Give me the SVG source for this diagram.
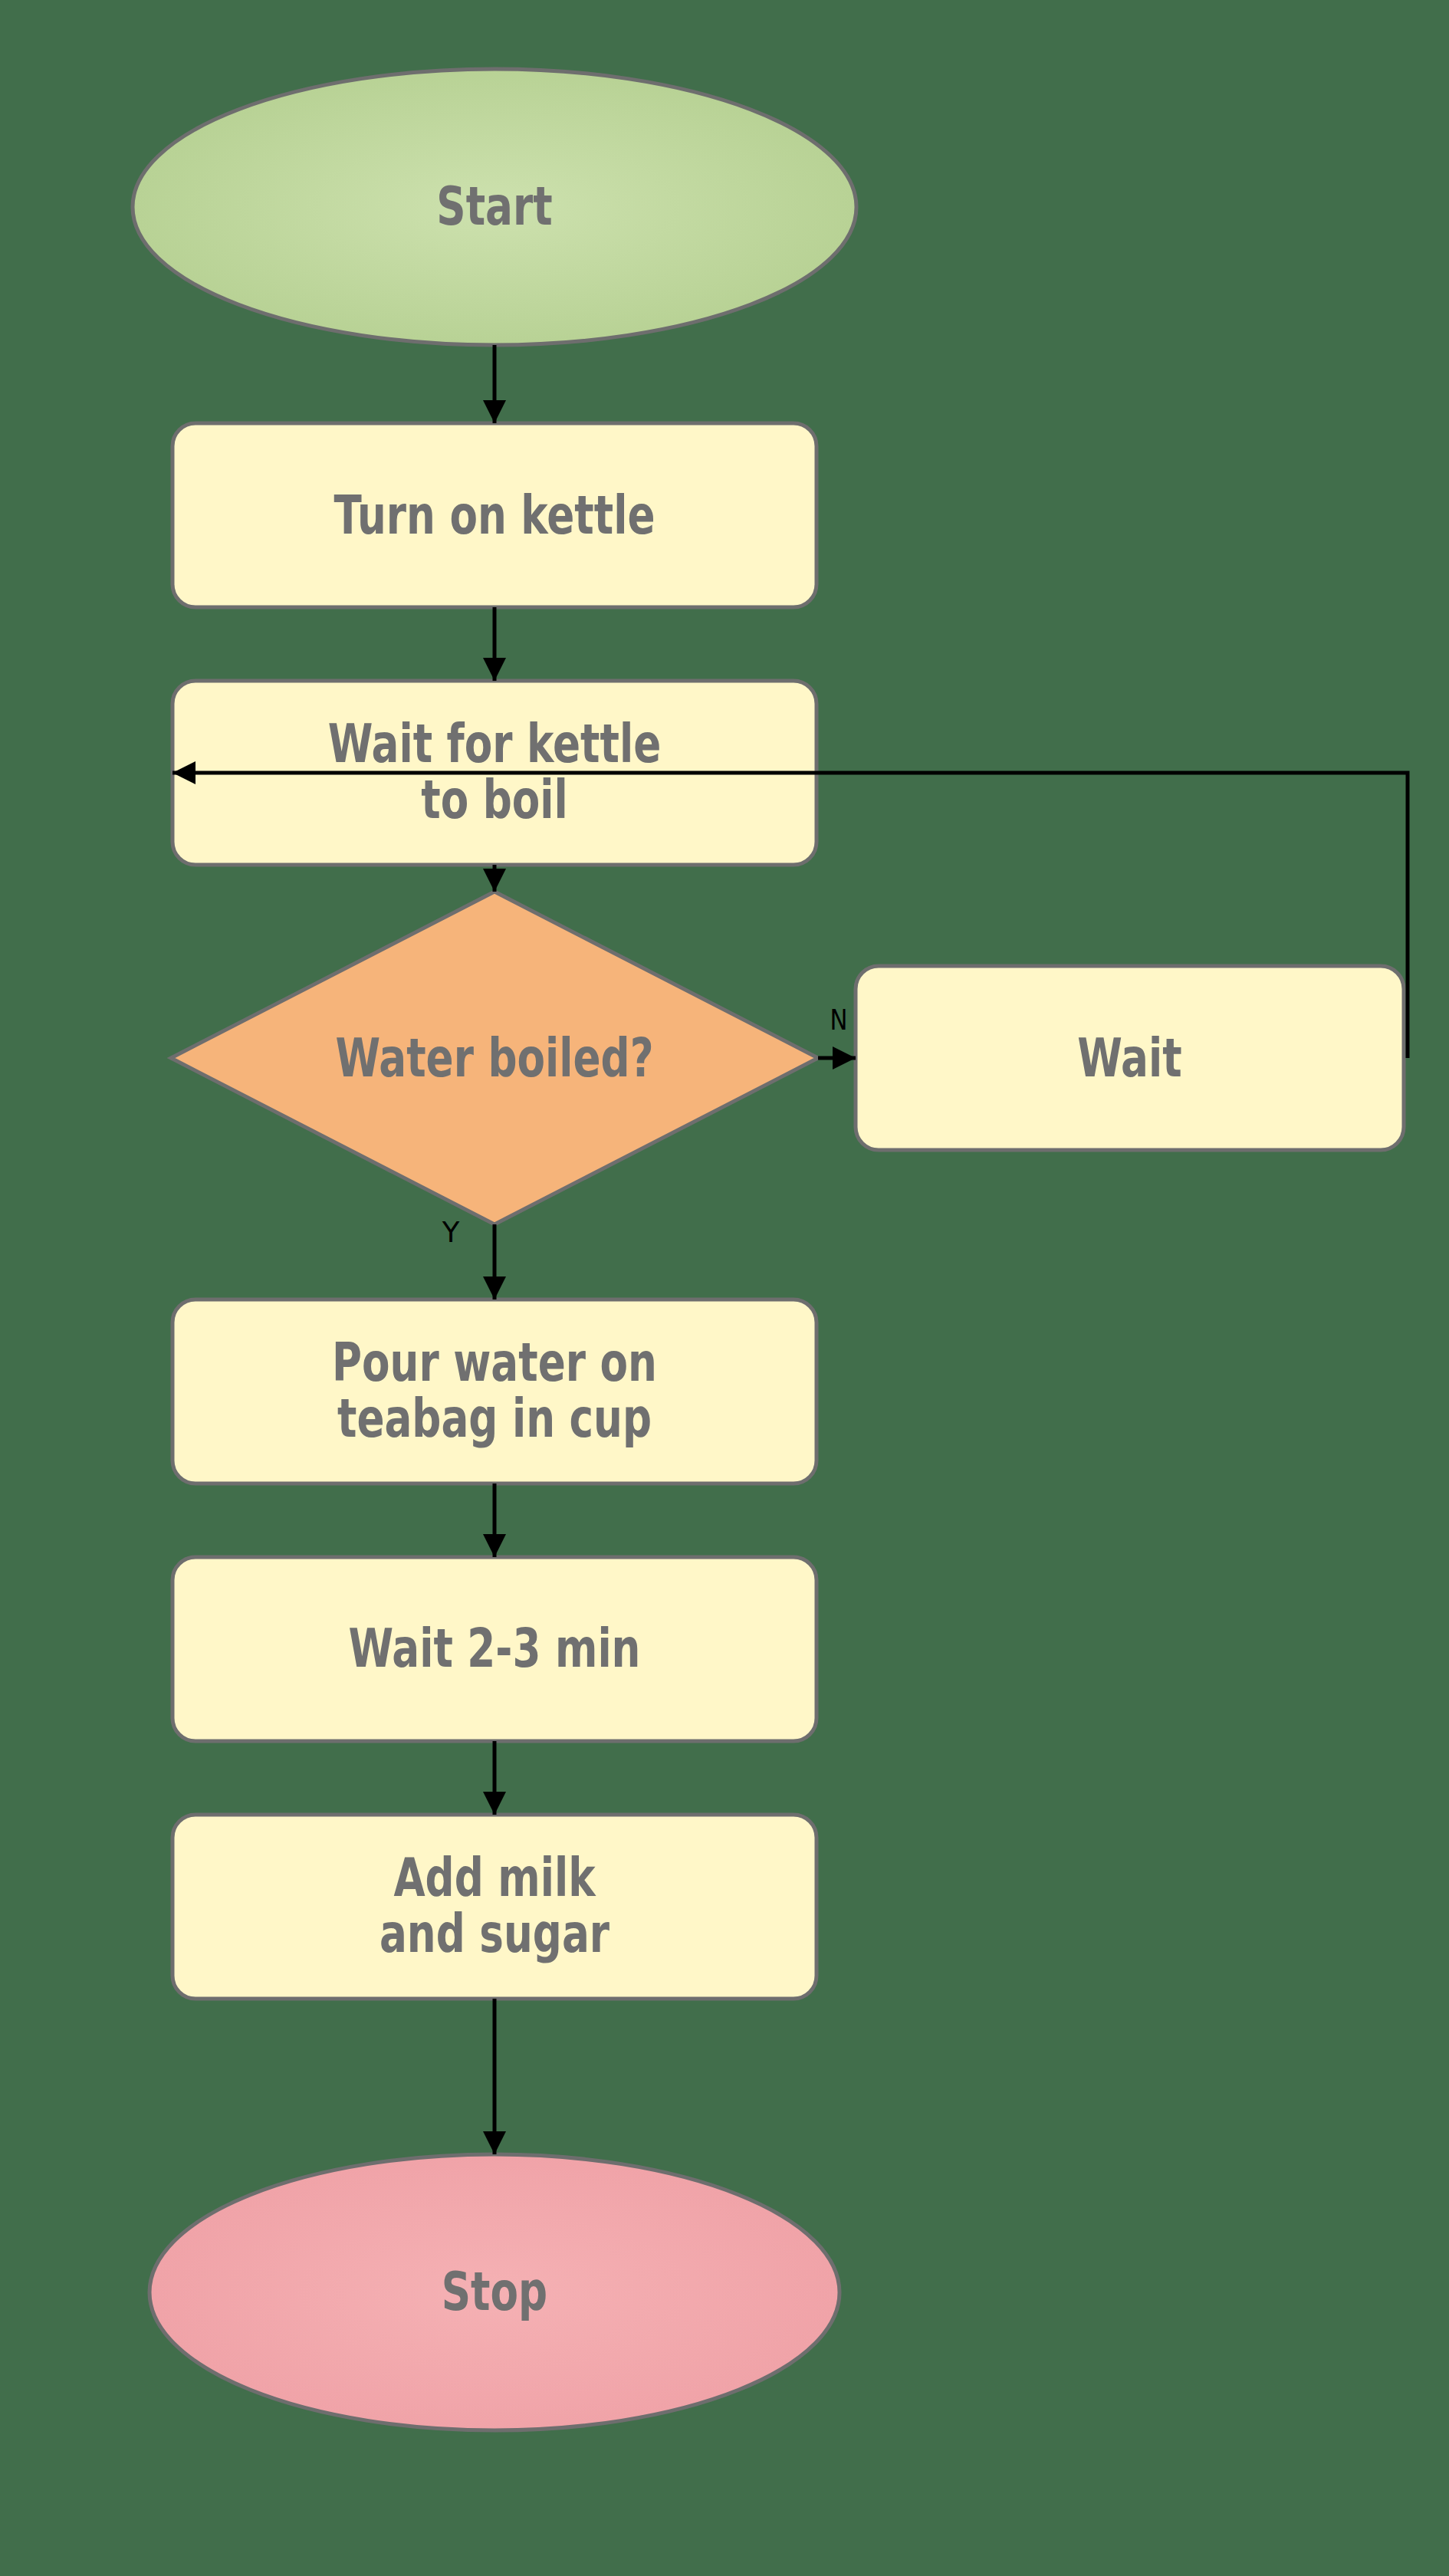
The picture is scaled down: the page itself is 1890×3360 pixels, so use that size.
<svg xmlns="http://www.w3.org/2000/svg" width="1890" height="3360" viewBox="0 0 1890 3360">
<style>
.node{stroke:#6e6e6e;stroke-width:5}
.proc{fill:#fff7c8}
.lbl{font-family:"DejaVu Sans","Liberation Sans",sans-serif;font-weight:bold;font-size:70px;fill:#707070;text-anchor:middle}
.yn{font-family:"DejaVu Sans","Liberation Sans",sans-serif;font-size:37px;fill:#000000;text-anchor:middle}
.conn{fill:none;stroke:#000000;stroke-width:5}
</style>
<defs>
<radialGradient id="gStart" cx="0.5" cy="0.5" r="0.5">
<stop offset="0" stop-color="#cde1ae"/>
<stop offset="1" stop-color="#b8d295"/>
</radialGradient>
<radialGradient id="gStop" cx="0.5" cy="0.5" r="0.5">
<stop offset="0" stop-color="#f5b1b4"/>
<stop offset="1" stop-color="#f0a3a8"/>
</radialGradient>
<marker id="arr" markerUnits="userSpaceOnUse" markerWidth="30" markerHeight="30" refX="30" refY="15" orient="auto">
<path d="M0,0 L30,15 L0,30 z" fill="#000000"/>
</marker>
</defs>
<rect x="0" y="0" width="1890" height="3360" fill="#416e4b"/>

<g id="start">
<ellipse class="node" cx="645" cy="270" rx="472" ry="180" fill="url(#gStart)"/>
<text class="lbl" x="645" y="293" transform="matrix(0.76 0 0 1 154.8 0)">Start</text>
</g>

<g id="turn-on-kettle">
<rect class="node proc" x="225" y="552" width="840" height="240" rx="30" ry="30"/>
<text class="lbl" x="645" y="696" transform="matrix(0.76 0 0 1 154.8 0)">Turn on kettle</text>
</g>

<g id="wait-for-kettle">
<rect class="node proc" x="225" y="888" width="840" height="240" rx="30" ry="30"/>
<text class="lbl" transform="matrix(0.76 0 0 1 154.8 0)"><tspan x="645" y="994">Wait for kettle</tspan><tspan x="645" y="1067">to boil</tspan></text>
</g>

<g id="water-boiled">
<polygon class="node" points="645,1163 1067,1380 645,1597 223,1380" fill="#f6b47a"/>
<text class="lbl" x="645" y="1404" transform="matrix(0.76 0 0 1 154.8 0)">Water boiled?</text>
</g>

<g id="wait">
<rect class="node proc" x="1116" y="1260" width="715" height="240" rx="30" ry="30"/>
<text class="lbl" x="1473.5" y="1404" transform="matrix(0.76 0 0 1 353.64 0)">Wait</text>
</g>

<g id="pour-water">
<rect class="node proc" x="225" y="1695" width="840" height="240" rx="30" ry="30"/>
<text class="lbl" transform="matrix(0.76 0 0 1 154.8 0)"><tspan x="645" y="1801">Pour water on</tspan><tspan x="645" y="1874">teabag in cup</tspan></text>
</g>

<g id="wait-2-3">
<rect class="node proc" x="225" y="2031" width="840" height="240" rx="30" ry="30"/>
<text class="lbl" x="645" y="2174" transform="matrix(0.76 0 0 1 154.8 0)">Wait 2-3 min</text>
</g>

<g id="add-milk">
<rect class="node proc" x="225" y="2367" width="840" height="240" rx="30" ry="30"/>
<text class="lbl" transform="matrix(0.76 0 0 1 154.8 0)"><tspan x="645" y="2473">Add milk</tspan><tspan x="645" y="2546">and sugar</tspan></text>
</g>

<g id="stop">
<ellipse class="node" cx="645" cy="2990" rx="450" ry="180" fill="url(#gStop)"/>
<text class="lbl" x="645" y="3013" transform="matrix(0.76 0 0 1 154.8 0)">Stop</text>
</g>

<g id="connectors">
<line class="conn" x1="645" y1="450" x2="645" y2="552" marker-end="url(#arr)"/>
<line class="conn" x1="645" y1="792" x2="645" y2="888" marker-end="url(#arr)"/>
<line class="conn" x1="645" y1="1128" x2="645" y2="1163" marker-end="url(#arr)"/>
<line class="conn" x1="1067" y1="1380" x2="1116" y2="1380" marker-end="url(#arr)"/>
<polyline class="conn" points="1836,1380 1836,1008 225,1008" marker-end="url(#arr)"/>
<line class="conn" x1="645" y1="1597" x2="645" y2="1695" marker-end="url(#arr)"/>
<line class="conn" x1="645" y1="1935" x2="645" y2="2031" marker-end="url(#arr)"/>
<line class="conn" x1="645" y1="2271" x2="645" y2="2367" marker-end="url(#arr)"/>
<line class="conn" x1="645" y1="2607" x2="645" y2="2810" marker-end="url(#arr)"/>
<text class="yn" x="1094" y="1343" textLength="23" lengthAdjust="spacingAndGlyphs">N</text>
<text class="yn" x="588" y="1620">Y</text>
</g>
</svg>
